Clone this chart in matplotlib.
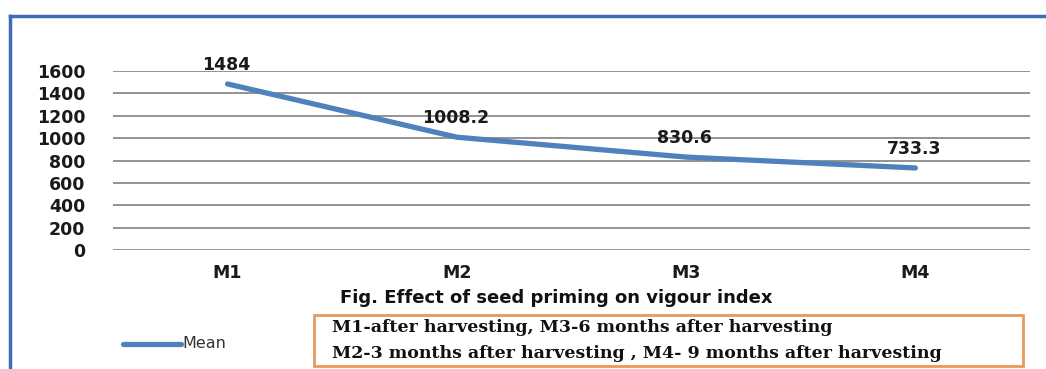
import matplotlib.pyplot as plt
from matplotlib.patches import Rectangle
from matplotlib.lines import Line2D

# vigour index means per storage period
periods = ['M1', 'M2', 'M3', 'M4']
mean_vi = [1484, 1008.2, 830.6, 733.3]
value_labels = ['1484', '1008.2', '830.6', '733.3']
yticks = [0, 200, 400, 600, 800, 1000, 1200, 1400, 1600]

W, H = 1046, 369
fig = plt.figure(figsize=(W / 100, H / 100), dpi=100)
fig.patch.set_facecolor('white')

ax = fig.add_axes([113 / W, 1 - 250 / H, 917 / W, 179 / H])
x = list(range(len(periods)))
ax.plot(x, mean_vi, color='#4f81bd', lw=3.8, solid_capstyle='round', zorder=3)
for xi, v, s in zip(x, mean_vi, value_labels):
    ax.annotate(s, (xi, v), xytext=(-1, 13.5), textcoords='offset points',
                ha='center', va='center', fontsize=12.5, fontweight='bold', color='#1a1a1a')

ax.set_xlim(-0.5, 3.5)
ax.set_ylim(0, 1600)
ax.set_yticks(yticks)
ax.set_yticklabels([str(t) for t in yticks], fontsize=12.5, fontweight='bold', color='#1a1a1a')
ax.set_xticks(x)
ax.set_xticklabels(periods, fontsize=12.5, fontweight='bold', color='#1a1a1a')
ax.tick_params(axis='y', length=0, pad=20)
ax.tick_params(axis='x', length=0, pad=10)
for sp in ax.spines.values():
    sp.set_visible(False)
ax.grid(axis='y', color='#8a8a8a', lw=1.3)
ax.set_axisbelow(True)

# outer chart frame (top and left edge)
fig.add_artist(Line2D([10 / W, 1.0], [1 - 16 / H, 1 - 16 / H], color='#3f6cb4', lw=2.5,
                      transform=fig.transFigure))
fig.add_artist(Line2D([10 / W, 10 / W], [0, 1 - 16 / H], color='#3f6cb4', lw=2.5,
                      transform=fig.transFigure))

# caption
fig.text(340 / W, 1 - 298 / H, 'Fig. Effect of seed priming on vigour index',
         fontsize=13, fontweight='bold', va='center', ha='left', color='#111111')

# legend
fig.add_artist(Line2D([123 / W, 181 / W], [1 - 344 / H, 1 - 344 / H], color='#4f81bd', lw=3.8,
                      solid_capstyle='round', transform=fig.transFigure))
fig.text(182 / W, 1 - 344 / H, 'Mean', fontsize=11.5, va='center', ha='left', color='#333333')

# key box
fig.add_artist(Rectangle((314 / W, 1 - 366 / H), 709 / W, 51 / H, fill=False,
                         edgecolor='#e59a5a', lw=2, transform=fig.transFigure))
fig.text(332 / W, 1 - 327 / H, 'M1-after harvesting, M3-6 months after harvesting',
         family='DejaVu Serif', fontsize=12.5, fontweight='bold', va='center', color='#111111')
fig.text(332 / W, 1 - 353 / H, 'M2-3 months after harvesting , M4- 9 months after harvesting',
         family='DejaVu Serif', fontsize=12.5, fontweight='bold', va='center', color='#111111')

fig.savefig('out.png', dpi=100)
